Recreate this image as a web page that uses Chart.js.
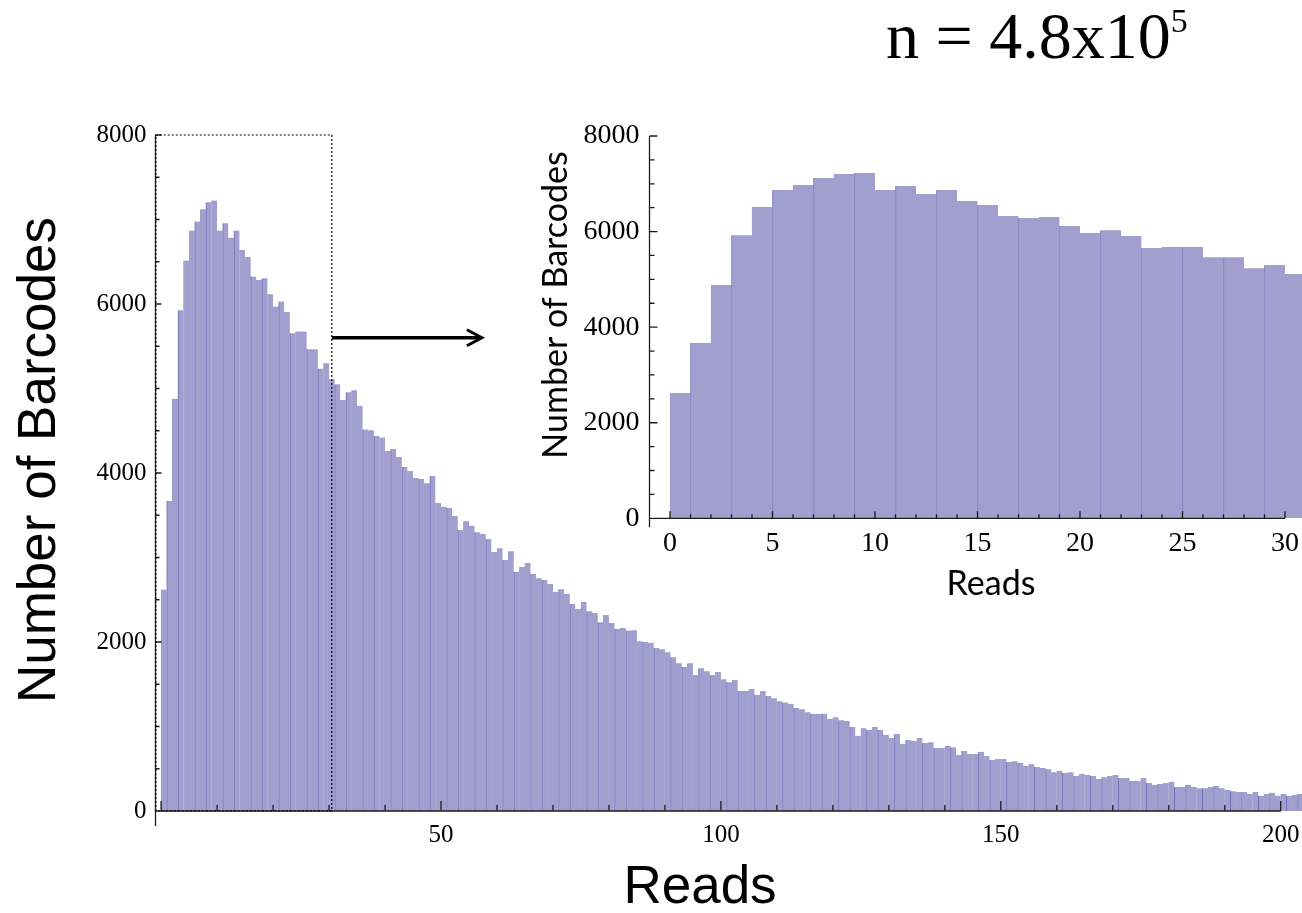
<!DOCTYPE html>
<html>
<head>
<meta charset="utf-8">
<title>Barcode read distribution</title>
<script src="https://cdn.jsdelivr.net/npm/chart.js@4.4.1/dist/chart.umd.min.js"></script>
<style>
  html, body { margin: 0; padding: 0; background: #fff; }
  #wrap { position: relative; width: 1302px; height: 913px; overflow: hidden; }
  #wrap canvas { position: absolute; left: 0; top: 0; }
  #count {
    position: absolute; left: 886px; top: 3px;
    font-family: "Liberation Serif", serif; font-size: 66px; line-height: 66px;
    color: #000; white-space: nowrap;
  }
  #count sup { font-size: 34px; line-height: 0; vertical-align: 26px; }
</style>
</head>
<body>
<div id="wrap">
  <canvas id="mainChart" width="1302" height="913"></canvas>
  <canvas id="insetChart" width="1302" height="913"></canvas>
  <div id="count">n = 4.8x10<sup>5</sup></div>
</div>
<script>
// barcodes per read-count bin, bin i covers [i, i+1)
const barcodeCounts = [
  2620, 3670, 4880, 5925, 6515, 6870, 6975, 7120, 7205, 7225,
  6870, 6955, 6785, 6870, 6640, 6555, 6325, 6285, 6305, 6115,
  5970, 6030, 5905, 5655, 5675, 5675, 5465, 5465, 5235, 5300,
  5110, 5050, 4865, 4955, 4980, 4795, 4515, 4505, 4440, 4420,
  4260, 4285, 4190, 4070, 4025, 3940, 3930, 3880, 3965, 3645,
  3600, 3585, 3490, 3325, 3430, 3375, 3300, 3280, 3220, 3065,
  3110, 2970, 3075, 2830, 2890, 2935, 2805, 2755, 2735, 2685,
  2595, 2625, 2570, 2450, 2390, 2475, 2365, 2345, 2235, 2320,
  2225, 2155, 2165, 2135, 2140, 2010, 2000, 1990, 1930, 1915,
  1880, 1820, 1750, 1705, 1750, 1610, 1690, 1655, 1610, 1645,
  1560, 1525, 1550, 1420, 1420, 1445, 1375, 1420, 1360, 1335,
  1300, 1285, 1268, 1220, 1205, 1170, 1150, 1150, 1150, 1090,
  1110, 1075, 1065, 995, 890, 980, 960, 995, 960, 900,
  865, 910, 795, 840, 830, 865, 805, 815, 745, 745,
  770, 755, 665, 710, 675, 675, 700, 650, 605, 615,
  615, 580, 590, 570, 535, 555, 520, 510, 495, 460,
  475, 450, 460, 415, 440, 425, 415, 380, 400, 415,
  425, 390, 390, 355, 355, 390, 330, 310, 320, 330,
  345, 285, 285, 310, 285, 270, 270, 285, 295, 270,
  250, 235, 225, 225, 200, 225, 180, 200, 215, 180,
  200, 180, 190, 200
];

const mainXLabels = [50, 100, 150, 200];
const mainYLabels = [0, 2000, 4000, 6000, 8000];
const insetXLabels = [0, 5, 10, 15, 20, 25, 30];
const insetYLabels = [0, 2000, 4000, 6000, 8000];

const barColor = 'rgb(160, 159, 206)';
const edgeColor = 'rgb(110, 108, 182)';

const points = barcodeCounts.map((v, i) => ({ x: i + 0.5, y: v }));

// Mathematica-style frame: inward ticks, axis lines, labels and titles
const axesPlugin = {
  id: 'axesPlugin',
  afterDatasetsDraw(chart, args, o) {
    const { ctx } = chart;
    const xs = chart.scales.x;
    const ys = chart.scales.y;
    const axisX = xs.getPixelForValue(xs.min);
    const axisY = ys.getPixelForValue(0);

    ctx.save();
    ctx.strokeStyle = '#1c1c1c';
    ctx.lineWidth = 1.3;
    ctx.beginPath();
    ctx.moveTo(axisX, ys.getPixelForValue(ys.max));
    ctx.lineTo(axisX, axisY + o.yOverhang);
    ctx.moveTo(axisX, axisY);
    ctx.lineTo(xs.getPixelForValue(o.xEnd), axisY);
    for (let v = 0; v <= o.xEnd; v += o.xStep) {
      const px = xs.getPixelForValue(v);
      const len = v % o.xMajor === 0 ? o.xMajorLen : o.xMinorLen;
      ctx.moveTo(px, axisY);
      ctx.lineTo(px, axisY - len);
    }
    for (let v = 0; v <= ys.max; v += o.yStep) {
      const py = ys.getPixelForValue(v);
      const len = v % o.yMajor === 0 ? o.yMajorLen : o.yMinorLen;
      ctx.moveTo(axisX, py);
      ctx.lineTo(axisX + len, py);
    }
    ctx.stroke();

    ctx.fillStyle = '#000';
    ctx.font = o.yFont;
    ctx.textAlign = 'right';
    ctx.textBaseline = 'middle';
    o.yLabels.forEach(v => ctx.fillText(String(v), axisX - o.yLabelGap, ys.getPixelForValue(v)));
    ctx.font = o.xFont;
    ctx.textAlign = 'center';
    o.xLabels.forEach(v => ctx.fillText(String(v), xs.getPixelForValue(v), axisY + o.xLabelGap));

    ctx.font = o.titleFont;
    ctx.textBaseline = 'alphabetic';
    ctx.fillText(o.xTitle, o.xTitleAt[0], o.xTitleAt[1]);
    ctx.translate(o.yTitleAt[0], o.yTitleAt[1]);
    ctx.rotate(-Math.PI / 2);
    ctx.fillText(o.yTitle, 0, 0);
    ctx.restore();
  }
};

// dotted zoom window and the arrow pointing to the inset
const zoomPlugin = {
  id: 'zoomPlugin',
  afterDatasetsDraw(chart, args, o) {
    if (!o.box) return;
    const { ctx } = chart;
    const xs = chart.scales.x;
    const ys = chart.scales.y;
    const left = xs.getPixelForValue(o.box.x0);
    const right = xs.getPixelForValue(o.box.x1);
    const top = ys.getPixelForValue(o.box.y1);
    const bottom = ys.getPixelForValue(o.box.y0);

    ctx.save();
    ctx.strokeStyle = '#000';
    ctx.lineWidth = 1.2;
    ctx.setLineDash([2, 2]);
    ctx.strokeRect(left, top, right - left, bottom - top);
    ctx.setLineDash([]);

    const ay = ys.getPixelForValue(o.arrow.y);
    const ax0 = xs.getPixelForValue(o.arrow.x0);
    const ax1 = xs.getPixelForValue(o.arrow.x1);
    ctx.lineWidth = 3.5;
    ctx.beginPath();
    ctx.moveTo(ax0, ay);
    ctx.lineTo(ax1 - 1, ay);
    ctx.stroke();
    ctx.lineWidth = 3;
    ctx.beginPath();
    ctx.moveTo(ax1 - 15, ay - 8);
    ctx.lineTo(ax1, ay);
    ctx.lineTo(ax1 - 15, ay + 8);
    ctx.stroke();
    ctx.restore();
  }
};

function barDataset(edgeOn) {
  return {
    data: points,
    backgroundColor: barColor,
    borderColor: c => edgeOn(c.dataIndex) ? edgeColor : barColor,
    borderWidth: { left: 1, right: 0, top: 0, bottom: 0 },
    borderSkipped: false,
    barPercentage: 1,
    categoryPercentage: 1
  };
}

document.addEventListener('DOMContentLoaded', function () {

  new Chart(document.getElementById('mainChart'), {
    type: 'bar',
    data: { datasets: [barDataset(i => i % 5 === 1 || i % 5 === 3)] },
    plugins: [axesPlugin, zoomPlugin],
    options: {
      responsive: false,
      animation: false,
      events: [],
      layout: { padding: { left: 155.5, right: 0, top: 135, bottom: 102 } },
      scales: {
        x: { type: 'linear', min: -1, max: 203.8, offset: false, display: false },
        y: { min: 0, max: 8000, display: false }
      },
      plugins: {
        legend: { display: false },
        tooltip: { enabled: false },
        axesPlugin: {
          xEnd: 200, xStep: 10, xMajor: 50, xMajorLen: 10, xMinorLen: 6,
          yStep: 500, yMajor: 2000, yMajorLen: 6, yMinorLen: 4,
          yOverhang: 15,
          xLabels: mainXLabels, yLabels: mainYLabels,
          xFont: '25px "Liberation Serif"', yFont: '25px "Liberation Serif"',
          xLabelGap: 24, yLabelGap: 9,
          titleFont: '53px "Liberation Sans"',
          xTitle: 'Reads', xTitleAt: [700, 903],
          yTitle: 'Number of Barcodes', yTitleAt: [55, 460]
        },
        zoomPlugin: {
          box: { x0: -0.95, x1: 30.5, y0: 0, y1: 8000 },
          arrow: { y: 5600, x0: 30.5, x1: 57.3 }
        }
      }
    }
  });

  new Chart(document.getElementById('insetChart'), {
    type: 'bar',
    data: { datasets: [barDataset(i => i % 2 === 1)] },
    plugins: [axesPlugin],
    options: {
      responsive: false,
      animation: false,
      events: [],
      layout: { padding: { left: 649.5, right: 0, top: 136, bottom: 394.7 } },
      scales: {
        x: { type: 'linear', min: -1, max: 30.83, offset: false, display: false },
        y: { min: 0, max: 8000, display: false }
      },
      plugins: {
        legend: { display: false },
        tooltip: { enabled: false },
        axesPlugin: {
          xEnd: 30, xStep: 1, xMajor: 5, xMajorLen: 7, xMinorLen: 4,
          yStep: 500, yMajor: 2000, yMajorLen: 8, yMinorLen: 5,
          yOverhang: 9,
          xLabels: insetXLabels, yLabels: insetYLabels,
          xFont: '28px "Liberation Serif"', yFont: '28px "Liberation Serif"',
          xLabelGap: 25, yLabelGap: 10,
          titleFont: '34px Lato',
          xTitle: 'Reads', xTitleAt: [991, 595],
          yTitle: 'Number of Barcodes', yTitleAt: [567, 305]
        }
      }
    }
  });
});
</script>
</body>
</html>
